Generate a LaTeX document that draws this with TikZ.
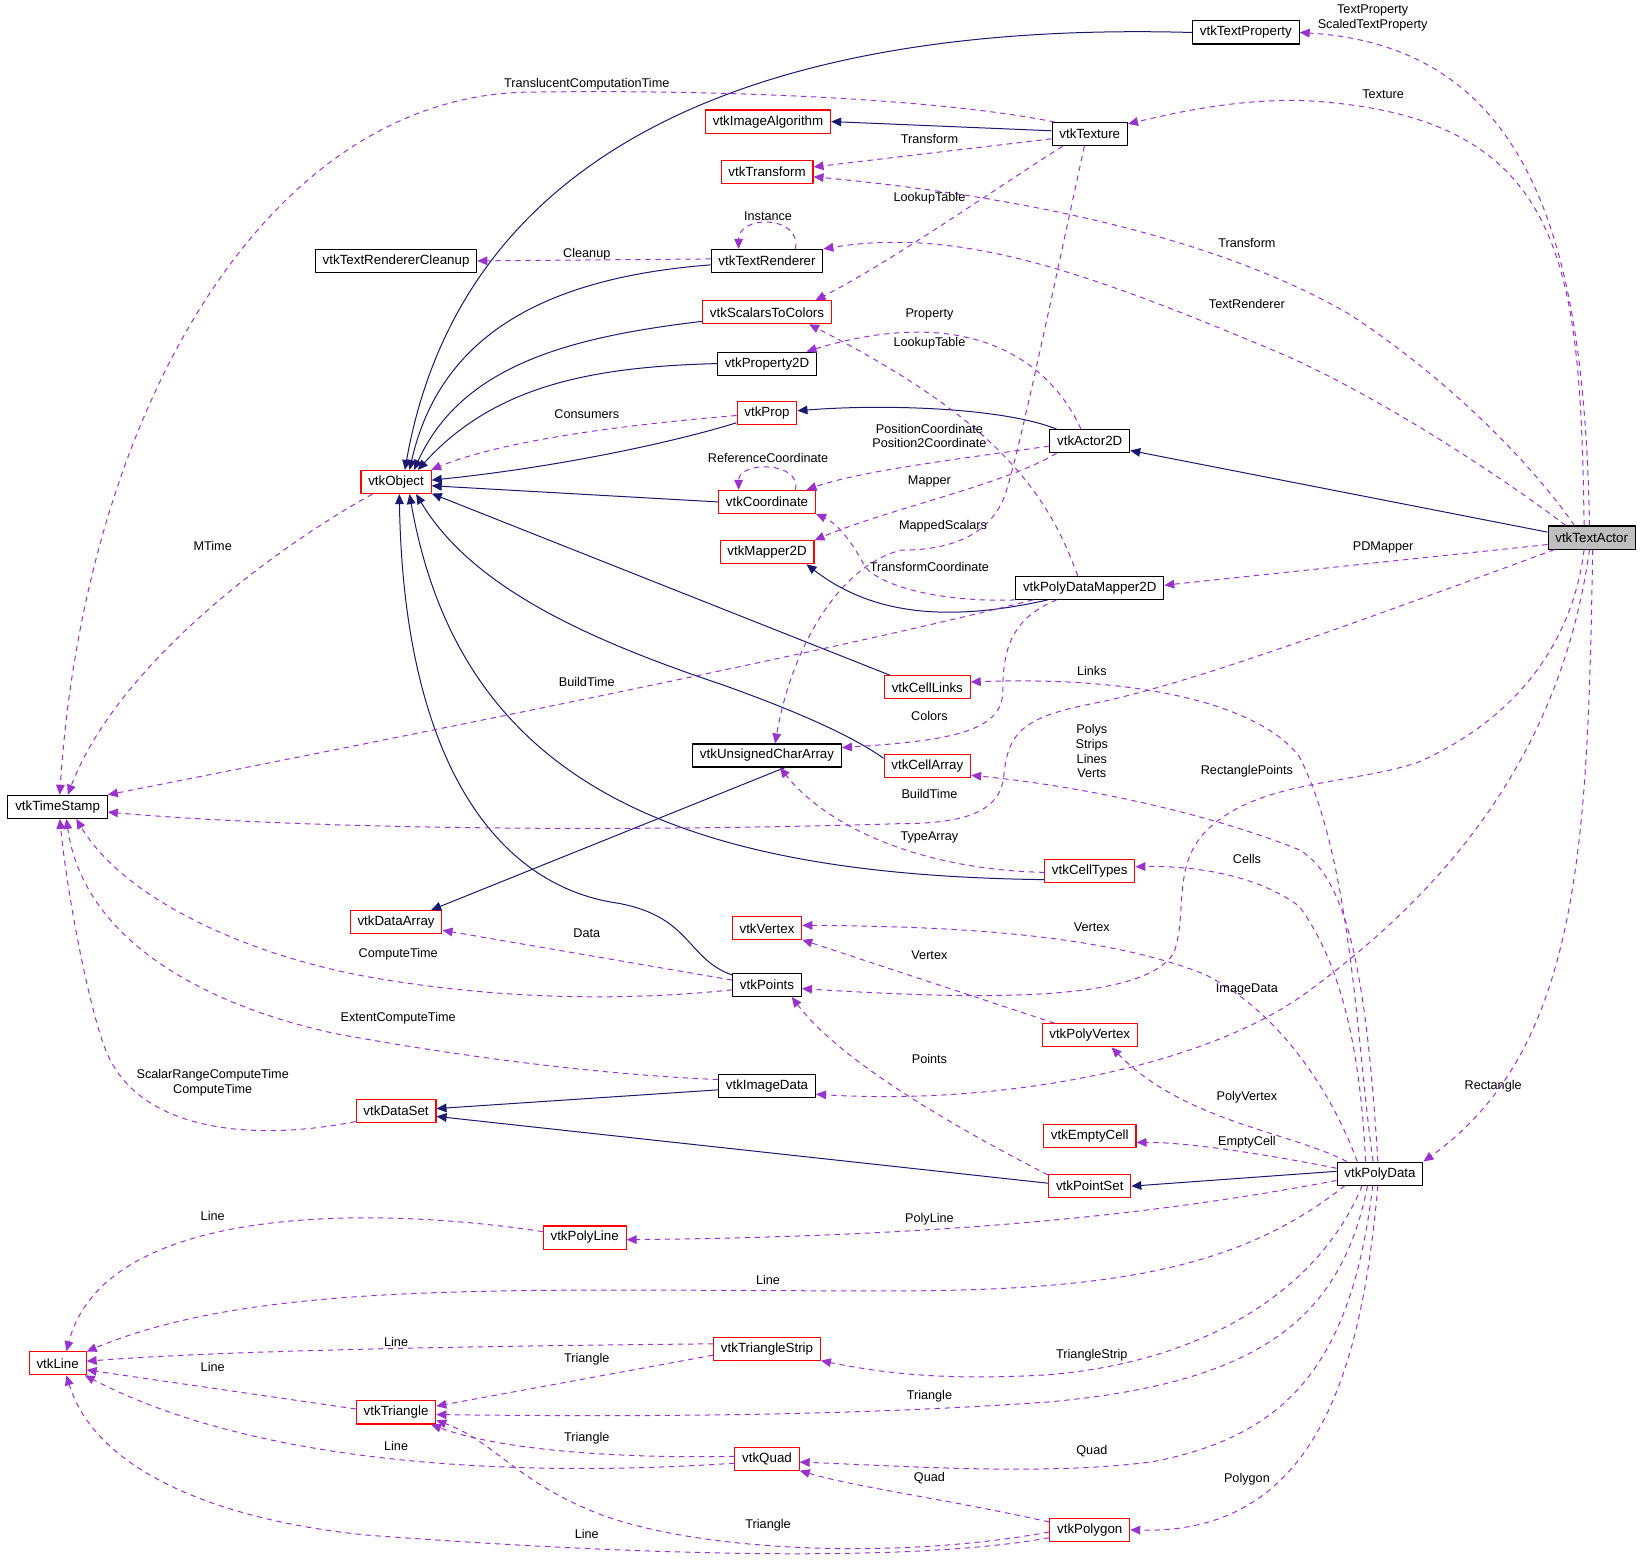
\documentclass[tikz,border=0pt]{standalone}
\usepackage{fontspec}
\setmainfont{Liberation Sans}
\usetikzlibrary{arrows.meta}
\definecolor{vtkred}{HTML}{FF0000}
\definecolor{vtknavy}{HTML}{191970}
\definecolor{vtkpurple}{HTML}{9A32CD}
\definecolor{vtkgray}{HTML}{BFBFBF}
\begin{document}
\begin{tikzpicture}[x=0.786pt,y=-0.786pt,line join=round,
  cls/.style={draw=black,rectangle,line width=0.8pt,minimum height=17.3pt,inner xsep=5.5pt,inner ysep=0pt,fill=white,font=\fontsize{10}{12}\selectfont},
  redcls/.style={cls,draw=vtkred},
  lbl/.style={font=\fontsize{9.5}{11}\selectfont,align=center,inner sep=0pt},
  inh/.style={draw=vtknavy,line width=0.75pt,-{Triangle[length=7.5pt,width=6.5pt]}},
  use/.style={draw=vtkpurple,line width=0.75pt,dash pattern=on 4pt off 3.5pt,-{Triangle[length=7.5pt,width=6.5pt]}}]
\useasboundingbox (0,0) rectangle (1568,1496);
% classes
\foreach \n/\x/\y/\t in {textprop/1189/31/vtkTextProperty, texture/1040/128/vtkTexture,
  trcleanup/378/249/vtkTextRendererCleanup, textrend/732/249/vtkTextRenderer,
  prop2d/732/347/vtkProperty2D, actor2d/1040/421/vtkActor2D,
  pdmapper/1040/561/vtkPolyDataMapper2D, ucarray/732/721/vtkUnsignedCharArray,
  timestamp/55/770/vtkTimeStamp, points/732/940/vtkPoints,
  imagedata/732/1036/vtkImageData, polydata/1317/1120/vtkPolyData}
  \node[cls] (\n) at (\x,\y) {\t};
\foreach \n/\x/\y/\t in {imgalgo/733/116/vtkImageAlgorithm, transform/732/164/vtkTransform,
  scalars/732/298/vtkScalarsToColors, prop/732/394/vtkProp, object/378/460/vtkObject,
  coord/732/479/vtkCoordinate, mapper2d/732/527/vtkMapper2D, celllinks/885/656/vtkCellLinks,
  cellarray/885/731/vtkCellArray, celltypes/1040/831/vtkCellTypes,
  dataarray/378/880/vtkDataArray, vertex/732/886/vtkVertex, polyvertex/1040/988/vtkPolyVertex,
  dataset/378/1060/vtkDataSet, emptycell/1040/1084/vtkEmptyCell, pointset/1040/1132/vtkPointSet,
  polyline/558/1181/vtkPolyLine, line/55/1301/vtkLine, tristrip/732/1287/vtkTriangleStrip,
  triangle/378/1348/vtkTriangle, quad/732/1392/vtkQuad, polygon/1040/1460/vtkPolygon}
  \node[redcls] (\n) at (\x,\y) {\t};
\node[cls,fill=vtkgray] (textactor) at (1519,513) {vtkTextActor};
% inheritance
\draw[inh] (textprop.west) .. controls (820,22) and (450,90) .. (object.54);
\draw[inh] (texture.175) -- (imgalgo.east);
\draw[inh] (textrend.184) .. controls (520,265) and (420,320) .. (object.42);
\draw[inh] (scalars.188) .. controls (540,322) and (440,350) .. (object.34);
\draw[inh] (prop2d.west) .. controls (560,350) and (470,370) .. (object.29);
\draw[inh] (prop.198) .. controls (650,420) and (540,445) .. (object.3);
\draw[inh] (actor2d.160) .. controls (960,390) and (850,385) .. (prop.4);
\draw[inh] (coord.west) -- (object.-6);
\draw[inh] (textactor.173) -- (actor2d.-13);
\draw[inh] (pdmapper.196) .. controls (900,595) and (830,585) .. (mapper2d.-17);
\draw[inh] (celllinks.162) -- (object.-18);
\draw[inh] (cellarray.170) .. controls (810,700) and (750,675) .. (688,653)
  .. controls (560,610) and (450,560) .. (object.-31);
\draw[inh] (celltypes.191) .. controls (650,835) and (440,750) .. (object.-42);
\draw[inh] (points.164) .. controls (655,915) and (660,875) .. (590,862)
  .. controls (470,845) and (385,720) .. (object.-75);
\draw[inh] (ucarray.-34) -- (dataarray.19);
\draw[inh] (imagedata.185) -- (dataset.3);
\draw[inh] (pointset.176) -- (dataset.-8);
\draw[inh] (polydata.177) -- (pointset.east);
% members of vtkTextActor
\draw[use] (textactor.100) .. controls (1512,250) and (1470,45) .. (textprop.east);
\draw[use] (textactor.122) .. controls (1508,250) and (1495,110) .. (1245,96)
  .. controls (1180,94) and (1120,108) .. (texture.15);
\draw[use] (textactor.145) .. controls (1460,440) and (1380,360) .. (1288,300)
  .. controls (1150,220) and (950,185) .. (transform.-6);
\draw[use] (textactor.155) .. controls (1440,460) and (1320,380) .. (1224,338)
  .. controls (1050,265) and (920,215) .. (textrend.12);
\draw[use] (textactor.189) -- (pdmapper.2);
\draw[use] (textactor.-122) .. controls (1500,620) and (1440,690) .. (1352,728)
  .. controls (1290,748) and (1210,745) .. (1160,785)
  .. controls (1115,820) and (1135,870) .. (1120,910)
  .. controls (1090,955) and (950,955) .. (points.-6);
\draw[use] (textactor.-162) .. controls (1300,592) and (1130,655) .. (1040,672)
  .. controls (975,685) and (962,700) .. (958,740)
  .. controls (955,775) and (920,786) .. (860,786)
  .. controls (600,794) and (300,792) .. (timestamp.-6);
\draw[use] (textactor.-100) .. controls (1495,680) and (1420,820) .. (1250,945)
  .. controls (1150,1020) and (950,1055) .. (imagedata.-10);
\draw[use] (textactor.-85) .. controls (1515,800) and (1510,1000) .. (polydata.north east);
% members of the rest
\draw[use] (texture.161) .. controls (900,95) and (700,85) .. (500,88)
  .. controls (250,95) and (80,400) .. (timestamp.80);
\draw[use] (texture.187) -- (transform.6);
\draw[use] (texture.204) .. controls (950,180) and (850,250) .. (scalars.14);
\draw[use] (texture.-114) .. controls (1000,300) and (975,420) .. (960,470)
  .. controls (945,515) and (900,525) .. (860,525)
  .. controls (800,540) and (755,620) .. (ucarray.56);
\draw[use] (textrend.23) .. controls (765,205) and (705,205) .. (textrend.157);
\draw[use] (textrend.178) -- (trcleanup.east);
\draw[use] (actor2d.126) .. controls (1000,340) and (920,290) .. (prop2d.17);
\draw[use] (pdmapper.135) .. controls (1000,470) and (950,400) .. (scalars.-16);
\draw[use] (actor2d.187) .. controls (900,440) and (820,450) .. (coord.17);
\draw[use] (coord.23) .. controls (765,440) and (705,440) .. (coord.157);
\draw[use] (actor2d.200) .. controls (960,462) and (850,485) .. (mapper2d.north east);
\draw[use] (prop.185) .. controls (600,405) and (480,420) .. (object.19);
\draw[use] (object.-153) .. controls (250,530) and (110,640) .. (timestamp.50);
\draw[use] (pdmapper.south west) .. controls (900,575) and (840,560) .. (825,540)
  .. controls (815,520) and (800,500) .. (coord.south east);
\draw[use] (pdmapper.192) .. controls (800,620) and (400,700) .. (timestamp.north east);
\draw[use] (pdmapper.200) .. controls (965,590) and (957,620) .. (957,660)
  .. controls (957,700) and (900,707) .. (ucarray.6);
\draw[use] (polydata.120) .. controls (1295,1000) and (1290,820) .. (1240,722)
  .. controls (1200,670) and (1080,645) .. (celllinks.7);
\draw[use] (polydata.100) .. controls (1305,950) and (1290,840) .. (1240,811)
  .. controls (1150,775) and (1030,750) .. (cellarray.-12);
\draw[use] (celltypes.182) .. controls (880,830) and (790,790) .. (ucarray.-43);
\draw[use] (polydata.140) .. controls (1298,1000) and (1280,920) .. (1240,865)
  .. controls (1200,835) and (1140,826) .. (celltypes.5);
\draw[use] (polydata.152) .. controls (1270,1040) and (1220,965) .. (1150,930)
  .. controls (1050,890) and (900,884) .. (vertex.5);
\draw[use] (polyvertex.161) -- (vertex.-18);
\draw[use] (points.172) -- (dataarray.-10);
\draw[use] (points.188) .. controls (600,955) and (480,955) .. (350,932)
  .. controls (240,912) and (120,860) .. (timestamp.-33);
\draw[use] (imagedata.173) .. controls (560,1025) and (420,1005) .. (318,986)
  .. controls (200,960) and (80,900) .. (timestamp.-54);
\draw[use] (dataset.195) .. controls (240,1090) and (130,1080) .. (100,1000)
  .. controls (85,960) and (65,860) .. (timestamp.-80);
\draw[use] (pointset.165) .. controls (900,1070) and (800,1010) .. (points.-26);
\draw[use] (polydata.160) .. controls (1230,1080) and (1130,1070) .. (polyvertex.-29);
\draw[use] (polydata.173) .. controls (1200,1100) and (1130,1090) .. (emptycell.-8);
\draw[use] (polydata.189) .. controls (1100,1160) and (900,1180) .. (polyline.-3);
\draw[use] (polyline.172) .. controls (350,1150) and (100,1150) .. (line.54);
\draw[use] (polydata.199) .. controls (1190,1205) and (1080,1232) .. (850,1232)
  .. controls (500,1232) and (250,1220) .. (line.22);
\draw[use] (tristrip.175) .. controls (400,1285) and (200,1290) .. (line.4);
\draw[use] (tristrip.187) -- (triangle.9);
\draw[use] (polydata.214) .. controls (1260,1230) and (1150,1300) .. (1000,1312)
  .. controls (900,1318) and (840,1310) .. (tristrip.south east);
\draw[use] (triangle.175) -- (line.-13);
\draw[use] (polydata.224) .. controls (1280,1260) and (1200,1320) .. (1000,1338)
  .. controls (800,1352) and (600,1352) .. (triangle.-3);
\draw[use] (quad.176) .. controls (600,1392) and (480,1385) .. (triangle.-19);
\draw[use] (quad.188) .. controls (500,1410) and (250,1400) .. (line.-24);
\draw[use] (polydata.239) .. controls (1290,1300) and (1230,1370) .. (1100,1395)
  .. controls (1000,1408) and (880,1400) .. (quad.-6);
\draw[use] (polygon.169) .. controls (900,1430) and (820,1420) .. (quad.south east);
\draw[use] (polydata.260) .. controls (1300,1300) and (1260,1465) .. (polygon.east);
\draw[use] (polygon.183) .. controls (850,1490) and (650,1480) .. (560,1440)
  .. controls (490,1410) and (470,1375) .. (triangle.-11);
\draw[use] (polygon.191) .. controls (850,1495) and (550,1480) .. (350,1465)
  .. controls (200,1450) and (90,1400) .. (line.-54);
% edge labels
\foreach \n/\x/\y/\t in {la/1310/17/{TextProperty\\ScaledTextProperty}, lb/1320/90/Texture,
  lc/560/80/TranslucentComputationTime, ld/887/133/Transform, le/887/189/LookupTable,
  lf/733/206/Instance, lg/1190/232/Transform, lh/560/243/Cleanup, li/1190/290/TextRenderer,
  lj/887/300/Property, lk/887/328/LookupTable, ll/560/395/Consumers,
  lm/887/416/{PositionCoordinate\\Position2Coordinate}, ln/733/437/ReferenceCoordinate,
  lo/887/459/Mapper, lp/900/502/MappedScalars, lq/203/521/MTime, lr/1320/522/PDMapper,
  ls/887/541/TransformCoordinate, lt/1042/640/Links, lu/560/651/BuildTime, lv/887/683/Colors,
  lw/1042/717/{Polys\\Strips\\Lines\\Verts}, lx/1190/736/RectanglePoints, ly/887/758/BuildTime,
  lz/887/799/TypeArray, ma/1190/820/Cells, mb/1042/885/Vertex, mc/560/891/Data,
  md/380/911/ComputeTime, me/887/912/Vertex, mf/1190/944/ImageData, mg/380/972/ExtentComputeTime,
  mh/887/1011/Points, mi/203/1033/{ScalarRangeComputeTime\\ComputeTime}, mj/1425/1037/Rectangle,
  mk/1190/1047/PolyVertex, ml/1190/1090/EmptyCell, mm/203/1160/Line, mn/887/1164/PolyLine,
  mo/733/1222/Line, mp/378/1281/Line, mq/1042/1293/TriangleStrip, mr/560/1297/Triangle,
  ms/203/1305/Line, mt/887/1332/Triangle, mu/560/1373/Triangle, mv/378/1380/Line,
  mw/1042/1385/Quad, mx/887/1411/Quad, my/1190/1412/Polygon, mz/733/1456/Triangle,
  na/560/1464/Line}
  \node[lbl] (\n) at (\x,\y) {\t};
\end{tikzpicture}
\end{document}
